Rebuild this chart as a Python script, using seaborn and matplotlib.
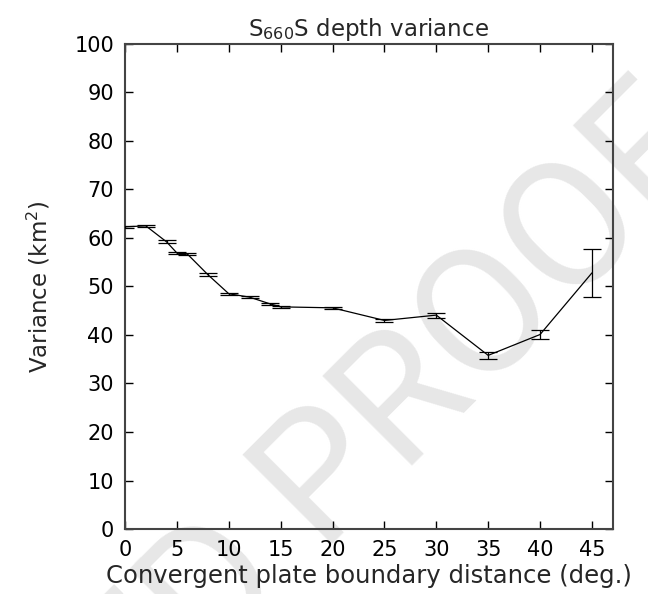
import numpy as np
import pandas as pd
import matplotlib
matplotlib.use("Agg")
import matplotlib.pyplot as plt
import seaborn as sns

# valori
distance = [0, 2, 4, 5, 6, 8, 10, 12, 14, 15, 20, 25, 30, 35, 40, 45]
variance = [62.3, 62.5, 59.2, 56.9, 56.7, 52.4, 48.5, 47.8, 46.4, 45.8,
            45.6, 43.0, 44.1, 35.8, 40.1, 52.8]
variance_err = [0.2, 0.2, 0.3, 0.2, 0.2, 0.3, 0.2, 0.25, 0.25, 0.2,
                0.25, 0.35, 0.5, 0.7, 0.95, 4.9]
x_ticks = [0, 5, 10, 15, 20, 25, 30, 35, 40, 45]
y_ticks = [0, 10, 20, 30, 40, 50, 60, 70, 80, 90, 100]

df = pd.DataFrame({"distance": distance, "variance": variance, "err": variance_err})

sns.set_style("ticks")
plt.rcParams["font.family"] = ["DejaVu Sans"]
plt.rcParams["mathtext.default"] = "regular"

fig = plt.figure(figsize=(6.48, 5.94), dpi=100)
ax = fig.add_axes([0.193, 0.1094, 0.7525, 0.8166])
ax.patch.set_alpha(0)

# filigrana
fig.text(0.61, 0.305, "ED PROOF", fontsize=128, color="#e7e7e7", rotation=45,
         ha="center", va="center", zorder=-5, family="Roboto", weight="normal")

sns.lineplot(data=df, x="distance", y="variance", ax=ax, color="black",
             linewidth=0.9, zorder=3)
ax.errorbar(df["distance"], df["variance"], yerr=df["err"], fmt="none",
            ecolor="black", elinewidth=0.9, capsize=6.5, capthick=0.9, zorder=3)

ax.set_xlim(0, 47)
ax.set_ylim(0, 100)
ax.set_xticks(x_ticks)
ax.set_yticks(y_ticks)
ax.tick_params(direction="in", length=6, width=1, labelsize=15,
               top=True, right=True, pad=8, colors="black")
for s in ax.spines.values():
    s.set_linewidth(1.5)
    s.set_color("#444444")

ax.set_title(r"S$_{660}$S depth variance", fontsize=16.5, pad=6)
ax.set_xlabel("Convergent plate boundary distance (deg.)", fontsize=17.5, labelpad=3)
ax.set_ylabel("Variance (km$^2$)", fontsize=16.5, labelpad=16)

plt.savefig("out.png", dpi=100)
plt.close()
